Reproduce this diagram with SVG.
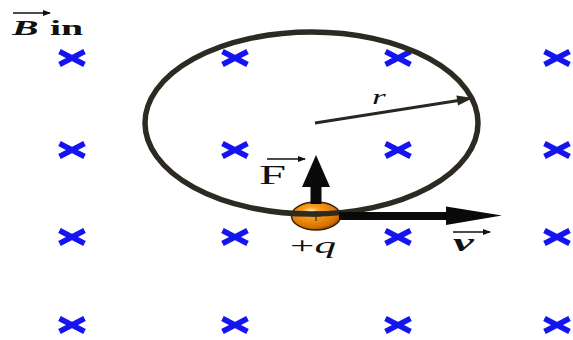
<svg xmlns="http://www.w3.org/2000/svg" width="573" height="340" viewBox="0 0 573 340">
<style>
.cross{stroke:#1414f0;stroke-width:5.5;fill:none}
.lbl{font-family:"Liberation Serif","Times New Roman",serif;fill:#111}
.vec{stroke:#111;stroke-width:1.6;fill:none}
.arr{fill:#0a0a0a}
</style>
<defs>
<path id="x" class="cross" d="M-12.5,-6.5 L12.5,6.5 M-12.5,6.5 L12.5,-6.5"/>
<marker id="vh" markerWidth="8" markerHeight="6" refX="7" refY="3" orient="auto" markerUnits="userSpaceOnUse">
<path d="M0,0 L8,3 L0,6 Z" fill="#111"/>
</marker>
<radialGradient id="pg" cx="0.4" cy="0.35" r="0.7">
<stop offset="0" stop-color="#fff3d0"/>
<stop offset="0.25" stop-color="#f7a020"/>
<stop offset="0.8" stop-color="#d87000"/>
<stop offset="1" stop-color="#8a4500"/>
</radialGradient>
</defs>
<rect width="573" height="340" fill="#fff"/>
<g id="field">
<use href="#x" x="72" y="58"/><use href="#x" x="235" y="58"/><use href="#x" x="398" y="58"/><use href="#x" x="557" y="58"/>
<use href="#x" x="72" y="150"/><use href="#x" x="235" y="150"/><use href="#x" x="398" y="150"/><use href="#x" x="557" y="150"/>
<use href="#x" x="72" y="237"/><use href="#x" x="235" y="237"/><use href="#x" x="398" y="237"/><use href="#x" x="557" y="237"/>
<use href="#x" x="72" y="325"/><use href="#x" x="235" y="325"/><use href="#x" x="398" y="325"/><use href="#x" x="557" y="325"/>
</g>
<g id="label-B">
<line class="vec" x1="13" y1="13" x2="50" y2="13" marker-end="url(#vh)"/>
<text class="lbl" transform="translate(12,35) scale(1.9,1)" font-size="21" font-weight="bold" font-style="italic">B</text>
<text class="lbl" transform="translate(50,35) scale(1.9,1)" font-size="21" font-weight="bold">in</text>
</g>
<g id="particle">
<ellipse cx="316" cy="216" rx="24.5" ry="14" fill="url(#pg)" stroke="#3a2406" stroke-width="1.5"/>
<path d="M311,216 H321 M316,211 V221" stroke="#3a2406" stroke-width="1.2"/>
</g>
<g id="orbit">
<ellipse cx="311.5" cy="123" rx="166.5" ry="91" fill="none" stroke="#2d2a22" stroke-width="5.5"/>
</g>
<g id="connectors">
<polygon id="force" class="arr" points="316,155 330,187 321.5,187 321.5,204 310.5,204 310.5,187 302,187"/>
<polygon id="velocity" class="arr" points="339,212 446,212 446,206.5 502,215.5 446,225 446,220 339,220"/>
<g id="radius">
<line x1="315" y1="123" x2="460" y2="100.3" stroke="#2a2620" stroke-width="3"/>
<polygon points="473,98 458,105.4 456.4,95.6" fill="#2a2620"/>
</g>
</g>
<g id="label-F">
<line class="vec" x1="267" y1="159" x2="305" y2="159" marker-end="url(#vh)"/>
<text class="lbl" transform="translate(259,184) scale(1.8,1)" font-size="27">F</text>
</g>
<g id="label-q">
<text class="lbl" transform="translate(290,253) scale(1.8,1)" font-size="24">+<tspan font-style="italic">q</tspan></text>
</g>
<g id="label-v">
<line class="vec" x1="453" y1="232" x2="490" y2="232" marker-end="url(#vh)"/>
<text class="lbl" transform="translate(453,251) scale(1.8,1)" font-size="26" font-style="italic" font-weight="bold">v</text>
</g>
<g id="label-r">
<text class="lbl" transform="translate(372,104) scale(1.6,1)" font-size="22" font-style="italic">r</text>
</g>
</svg>
